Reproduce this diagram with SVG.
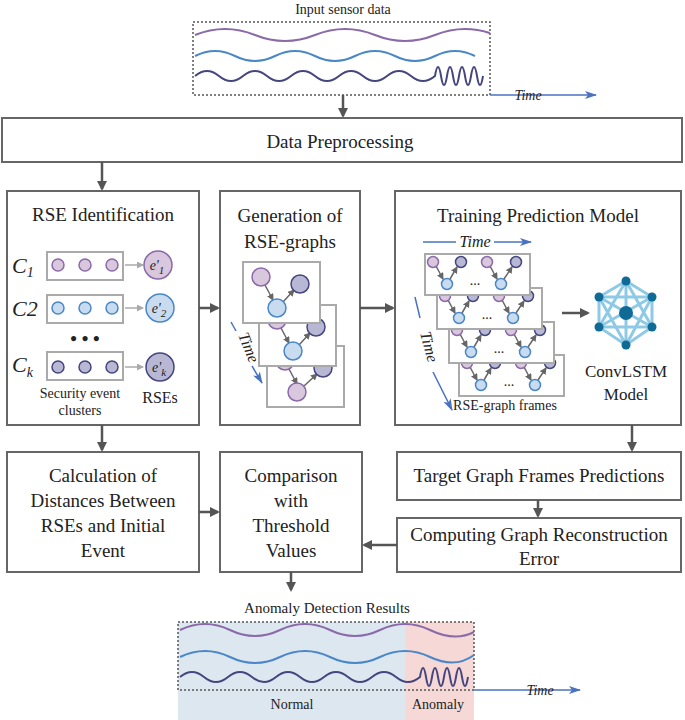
<svg xmlns="http://www.w3.org/2000/svg" xmlns:xlink="http://www.w3.org/1999/xlink" width="685" height="720" viewBox="0 0 685 720" font-family="Liberation Serif, DejaVu Serif, serif">
<style>
text{font-family:"Liberation Serif","Tinos","DejaVu Serif",serif;fill:#222}
.t{font-size:19px;text-anchor:middle}
.s{font-size:14px;text-anchor:middle}
.i{font-style:italic}
.box{fill:#fff;stroke:#666;stroke-width:2}
.fr{fill:#fff;stroke:#aaa;stroke-width:2}
.c{stroke:#555;stroke-width:2.5;fill:none;marker-end:url(#ah)}
.sm{stroke:#666;stroke-width:1.5;fill:none;marker-end:url(#as)}
.lg{stroke:#aaa;stroke-width:1.5;fill:none;marker-end:url(#al)}
.tm{stroke:#4a72c0;stroke-width:1.5;fill:none}
.tma{stroke:#4a72c0;stroke-width:1.5;fill:none;marker-end:url(#at)}
.p{fill:#d8c7dd;stroke:#8a6aa8;stroke-width:1.5}
.b{fill:#c9dcef;stroke:#4a87c8;stroke-width:1.5}
.d{fill:#b8b8d4;stroke:#45457f;stroke-width:1.5}
.wp{fill:none;stroke:#8a6aa8;stroke-width:2}
.wb{fill:none;stroke:#4a87c8;stroke-width:2}
.wd{fill:none;stroke:#45457f;stroke-width:2}
.dot{fill:none;stroke:#555;stroke-width:1.5;stroke-dasharray:2 2}
</style>
<defs>
<marker id="ah" markerWidth="10" markerHeight="10" refX="8" refY="5" orient="auto" markerUnits="userSpaceOnUse"><path d="M0,0L10,5L0,10z" fill="#555"/></marker>
<marker id="as" markerWidth="7" markerHeight="7" refX="6" refY="3.5" orient="auto" markerUnits="userSpaceOnUse"><path d="M0,0L7,3.5L0,7z" fill="#666"/></marker>
<marker id="al" markerWidth="7" markerHeight="7" refX="6" refY="3.5" orient="auto" markerUnits="userSpaceOnUse"><path d="M0,0L7,3.5L0,7z" fill="#aaa"/></marker>
<marker id="at" markerWidth="12" markerHeight="8" refX="11" refY="4" orient="auto" markerUnits="userSpaceOnUse"><path d="M0,0L12,4L0,8L3,4z" fill="#4a72c0"/></marker>
<clipPath id="ct"><rect x="193" y="22" width="297" height="73"/></clipPath>
<g id="tf">
<rect class="fr" x="0" y="0" width="105" height="41"/>
<path class="sm" d="M11,12L18,25"/><path class="sm" d="M25,25L32,13"/>
<path class="sm" d="M65,12L72,25"/><path class="sm" d="M79,25L87,13"/>
<circle class="p" cx="8" cy="8" r="5.5"/><circle class="b" cx="22" cy="30" r="5.5"/><circle class="d" cx="36" cy="8" r="5.5"/>
<circle class="p" cx="62" cy="8" r="5.5"/><circle class="b" cx="76" cy="30" r="5.5"/><circle class="d" cx="91" cy="8" r="5.5"/>
<text x="50" y="31" class="s">...</text>
</g>
</defs>

<g id="input">
<text x="343" y="14" class="s">Input sensor data</text>
<rect class="dot" x="193" y="22" width="297" height="73"/>
<path class="wp" d="M195,35Q225,23 255,35T315,35T375,35T435,35T495,35" clip-path="url(#ct)"/>
<path class="wb" d="M195,56Q215,46 235,56T275,56T315,56T355,56T395,56T435,56T475,56"/>
<path class="wd" d="M195,76Q207,66 219,76T243,76T267,76T291,76T315,76T339,76T363,76T387,76T411,76T435,76Q438,58 441,76Q444,94 447,76Q450,58 453,76Q456,94 459,76Q462,58 465,76Q468,94 471,76Q474,58 477,76Q480,94 483,76"/>
<path class="tma" d="M490,95L596,95"/>
<text x="528" y="100" class="s i">Time</text>
</g>

<g id="pre"><rect class="box" x="2" y="118" width="680" height="44"/><text x="340" y="148" class="t">Data Preprocessing</text></g>

<g id="rse">
<rect class="box" x="7" y="191" width="192" height="234"/>
<text x="103" y="221" class="t">RSE Identification</text>
<text x="12" y="273" class="i" font-size="22">C<tspan font-size="14" dy="4">1</tspan></text>
<text x="12" y="316" class="i" font-size="22">C2</text>
<text x="12" y="372" class="i" font-size="22">C<tspan font-size="14" dy="5">k</tspan></text>
<rect class="fr" x="47" y="252" width="76" height="28"/>
<rect class="fr" x="47" y="295" width="76" height="28"/>
<rect class="fr" x="47" y="352" width="76" height="28"/>
<circle class="p" cx="58" cy="265" r="6"/><circle class="p" cx="85" cy="265" r="6"/><circle class="p" cx="112" cy="265" r="6"/>
<circle class="b" cx="58" cy="308" r="6"/><circle class="b" cx="85" cy="308" r="6"/><circle class="b" cx="112" cy="308" r="6"/>
<circle class="d" cx="58" cy="367" r="6"/><circle class="d" cx="85" cy="367" r="6"/><circle class="d" cx="112" cy="367" r="6"/>
<path class="lg" d="M125,265L143,265"/><path class="lg" d="M125,308L143,308"/><path class="lg" d="M125,367L143,367"/>
<circle class="p" cx="158" cy="265" r="14"/><circle class="b" cx="160" cy="308" r="14"/><circle class="d" cx="160" cy="367" r="14"/>
<text x="157" y="270" class="s i">e'<tspan font-size="11" dy="4">1</tspan></text>
<text x="159" y="313" class="s i">e'<tspan font-size="11" dy="4">2</tspan></text>
<text x="159" y="372" class="s i">e'<tspan font-size="11" dy="4">k</tspan></text>
<text x="85" y="345" class="t" font-weight="bold">• • •</text>
<text x="80" y="398" class="s">Security event</text>
<text x="80" y="415" class="s">clusters</text>
<text x="160" y="403" class="s" style="font-size:16px">RSEs</text>
</g>

<g id="gen">
<rect class="box" x="220" y="191" width="140" height="234"/>
<text x="290" y="222" class="t">Generation of</text>
<text x="290" y="248" class="t">RSE-graphs</text>
<g transform="translate(267,346)"><rect class="fr" width="77" height="61"/>
<path class="sm" d="M22,23L30,38"/><path class="sm" d="M37,40L50,28"/>
<circle class="p" cx="18" cy="15" r="9"/><circle class="p" cx="30" cy="46" r="9"/><circle class="d" cx="56" cy="22" r="9"/></g>
<g transform="translate(259,305)"><rect class="fr" width="77" height="61"/>
<path class="sm" d="M22,23L30,38"/><path class="sm" d="M40,40L51,28"/>
<circle class="p" cx="18" cy="15" r="9"/><circle class="b" cx="34" cy="46" r="9"/><circle class="d" cx="57" cy="22" r="9"/></g>
<g transform="translate(243,262)"><rect class="fr" width="77" height="61"/>
<path class="sm" d="M22,23L30,38"/><path class="sm" d="M40,40L51,28"/>
<circle class="p" cx="18" cy="15" r="9"/><circle class="b" cx="34" cy="46" r="9"/><circle class="d" cx="57" cy="22" r="9"/></g>
<path class="tm" d="M231,322L236,331"/>
<text transform="translate(238,335) rotate(68)" class="s i" style="text-anchor:start;font-size:16px">Time</text>
<path class="tma" d="M252,366L262,383"/>
</g>

<g id="train">
<rect class="box" x="395" y="191" width="286" height="234"/>
<text x="538" y="222" class="t">Training Prediction Model</text>
<path class="tm" d="M423,242L456,242"/><path class="tma" d="M494,242L531,242"/>
<text x="475" y="247" class="s i" style="font-size:16px">Time</text>
<use xlink:href="#tf" x="459" y="355"/>
<use xlink:href="#tf" x="449" y="322"/>
<use xlink:href="#tf" x="437" y="288"/>
<use xlink:href="#tf" x="425" y="254"/>
<path class="tm" d="M415,297L420,318"/>
<text transform="translate(420,333) rotate(75)" class="s i" style="text-anchor:start;font-size:16px">Time</text>
<path class="tma" d="M433,372L452,410"/>
<text x="505" y="410" class="s">RSE-graph frames</text>
<path class="c" d="M562,313L588,313"/>
<g stroke="#8ecae6" stroke-width="3" fill="none">
<path d="M626,281L652,297L652,327L626,345L599,327L599,297Z"/>
<path d="M626,281L626,345M599,297L652,327M652,297L599,327M626,281L599,327M626,281L652,327M599,297L626,345M652,297L626,345M599,297L652,297M599,327L652,327"/>
</g>
<g fill="#0f6a96"><circle cx="626" cy="281" r="4.5"/><circle cx="652" cy="297" r="4.5"/><circle cx="652" cy="327" r="4.5"/><circle cx="626" cy="345" r="4.5"/><circle cx="599" cy="327" r="4.5"/><circle cx="599" cy="297" r="4.5"/><circle cx="626" cy="313" r="7"/></g>
<text x="626" y="377" class="t" style="font-size:17px">ConvLSTM</text>
<text x="626" y="400" class="t" style="font-size:17px">Model</text>
</g>

<g id="calc"><rect class="box" x="7" y="452" width="192" height="120"/>
<text x="103" y="482" class="t">Calculation of</text><text x="103" y="507" class="t">Distances Between</text><text x="103" y="532" class="t">RSEs and Initial</text><text x="103" y="557" class="t">Event</text></g>
<g id="comp"><rect class="box" x="220" y="452" width="142" height="120"/>
<text x="291" y="482" class="t">Comparison</text><text x="291" y="507" class="t">with</text><text x="291" y="532" class="t">Threshold</text><text x="291" y="557" class="t">Values</text></g>
<g id="target"><rect class="box" x="397" y="452" width="284" height="48"/><text x="539" y="482" class="t">Target Graph Frames Predictions</text></g>
<g id="err"><rect class="box" x="397" y="518" width="284" height="54"/><text x="539" y="541" class="t">Computing Graph Reconstruction</text><text x="539" y="565" class="t">Error</text></g>

<g id="connectors">
<path class="c" d="M343,95L343,116"/>
<path class="c" d="M102,162L102,189"/>
<path class="c" d="M199,308L218,308"/>
<path class="c" d="M360,308L393,308"/>
<path class="c" d="M102,425L102,450"/>
<path class="c" d="M632,425L632,450"/>
<path class="c" d="M538,500L538,516"/>
<path class="c" d="M199,512L218,512"/>
<path class="c" d="M397,545L364,545"/>
<path class="c" d="M291,572L291,590"/>
</g>

<g id="result">
<text x="327" y="613" class="s" style="font-size:15px">Anomaly Detection Results</text>
<rect x="178" y="622" width="227" height="98" fill="#dde7f0"/>
<rect x="405" y="622" width="69" height="98" fill="#f6d9d6"/>
<rect class="dot" x="178" y="622" width="296" height="68"/>
<path class="wp" d="M180,630Q205,618 230,630T280,630T330,630T380,630T430,630T474,632"/>
<path class="wb" d="M180,657Q205,645 230,657T280,657T330,657T380,657T430,657T474,655"/>
<path class="wd" d="M180,677Q192,667 204,677T228,677T252,677T276,677T300,677T324,677T348,677T372,677T396,677T420,677Q423,659 426,677Q429,695 432,677Q435,659 438,677Q441,695 444,677Q447,659 450,677Q453,695 456,677Q459,659 462,677Q465,695 468,677"/>
<path class="tma" d="M474,690L580,690"/>
<text x="540" y="695" class="s i">Time</text>
<text x="292" y="709" class="s">Normal</text>
<text x="438" y="709" class="s">Anomaly</text>
</g>
</svg>
